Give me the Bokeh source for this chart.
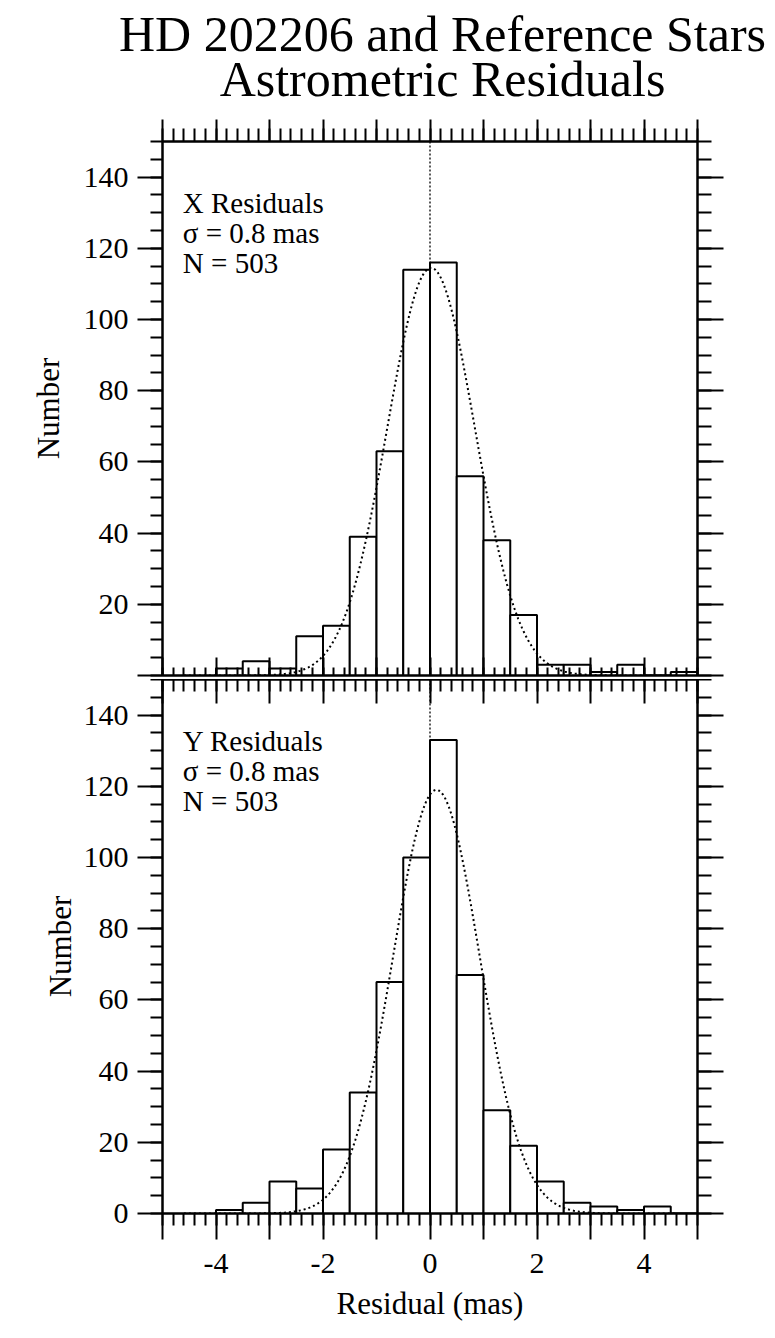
import numpy as np
from bokeh.plotting import figure
from bokeh.models import FixedTicker, LinearAxis, Label, Span, Range1d, Div
from bokeh.layouts import column
from bokeh.embed import file_html
from bokeh.resources import INLINE

# ---------------- data ----------------
bin_left = [-4.0, -3.5, -3.0, -2.5, -2.0, -1.5, -1.0, -0.5, 0.0,
            0.5, 1.0, 1.5, 2.0, 2.5, 3.0, 3.5, 4.0, 4.5]
bin_right = [-3.5, -3.0, -2.5, -2.0, -1.5, -1.0, -0.5, 0.0, 0.5,
             1.0, 1.5, 2.0, 2.5, 3.0, 3.5, 4.0, 4.5, 5.0]
x_counts = [2, 4, 2, 11, 14, 39, 63, 114, 116, 56, 38, 17, 3, 3, 1, 3, 0, 1]
y_counts = [1, 3, 9, 7, 18, 34, 65, 100, 133, 67, 29, 19, 9, 3, 2, 1, 2, 0]

# fitted gaussian parameters (peak, centre, sigma)
x_fit_peak, x_fit_center, x_fit_sigma = 114.5, 0.02, 0.82
y_fit_peak, y_fit_center, y_fit_sigma = 119.0, 0.12, 0.81
fit_span = (-4.6, 4.6)

x_text = ["X Residuals", "\u03c3 = 0.8 mas", "N = 503"]
y_text = ["Y Residuals", "\u03c3 = 0.8 mas", "N = 503"]
title_lines = ["HD 202206 and Reference Stars", "Astrometric Residuals"]

x_major_ticks = [-5, -4, -3, -2, -1, 0, 1, 2, 3, 4, 5]
x_minor_ticks = [round(-5 + 0.2 * i, 1) for i in range(51)]
x_tick_labels = {-5: "", -4: "-4", -3: "", -2: "-2", -1: "", 0: "0",
                 1: "", 2: "2", 3: "", 4: "4", 5: ""}
y_major_ticks = [0, 20, 40, 60, 80, 100, 120, 140]
y_minor_ticks = list(range(0, 151, 5))

FONT = "Liberation Serif"
FRAME_W, FRAME_H = 535, 534
LEFT, RIGHT = 162, 78
TITLE_H = 118
PAGE_W = 775


def hide_labels(ax):
    ax.major_label_text_font_size = "0px"
    ax.major_label_text_color = None
    ax.major_label_standoff = 0
    ax.axis_label = None


def style_axis(ax, tin_major, tout_major, tin_minor, tout_minor):
    ax.axis_line_width = 2
    ax.axis_line_color = "black"
    ax.major_tick_line_width = 2
    ax.minor_tick_line_width = 2
    ax.major_tick_line_color = "black"
    ax.minor_tick_line_color = "black"
    ax.major_tick_in = tin_major
    ax.major_tick_out = tout_major
    ax.minor_tick_in = tin_minor
    ax.minor_tick_out = tout_minor
    ax.major_label_text_font = FONT
    ax.major_label_text_font_size = "30px"
    ax.major_label_text_color = "black"
    ax.axis_label_text_font = FONT
    ax.axis_label_text_font_style = "normal"
    ax.axis_label_text_color = "black"
    ax.axis_label_text_font_size = "31px"


def panel(counts, peak, center, sigma, texts, top_panel, number_standoff):
    p = figure(frame_width=FRAME_W, frame_height=FRAME_H,
               x_range=Range1d(-5, 5), y_range=Range1d(0, 150),
               output_backend="svg", toolbar_location=None,
               min_border_left=LEFT, min_border_right=RIGHT,
               min_border_top=23 if top_panel else 0,
               min_border_bottom=4 if top_panel else 120,
               background_fill_color="white", border_fill_color="white")
    p.xgrid.visible = False
    p.ygrid.visible = False
    p.outline_line_color = "black"
    p.outline_line_width = 2

    xt = FixedTicker(ticks=x_major_ticks, minor_ticks=x_minor_ticks)
    yt = FixedTicker(ticks=y_major_ticks, minor_ticks=y_minor_ticks)

    # left axis
    la = p.yaxis[0]
    la.ticker = yt
    style_axis(la, 0, 25, 0, 12)
    la.major_label_standoff = 9
    la.axis_label = "Number"
    la.axis_label_standoff = number_standoff
    if top_panel:
        la.major_label_overrides = {0: ""}

    # right axis
    ra = LinearAxis(ticker=yt)
    style_axis(ra, 0, 26, 0, 14)
    hide_labels(ra)
    p.add_layout(ra, "right")

    # bottom axis
    ba = p.xaxis[0]
    ba.ticker = xt
    if top_panel:
        style_axis(ba, 18, 0, 8, 0)
        hide_labels(ba)
    else:
        style_axis(ba, 0, 26, 0, 12)
        ba.major_label_overrides = x_tick_labels
        ba.major_label_standoff = 14
        ba.axis_label = "Residual (mas)"
        ba.axis_label_standoff = 10

    # top axis
    ta = LinearAxis(ticker=xt)
    if top_panel:
        style_axis(ta, 0, 22, 0, 13)
    else:
        style_axis(ta, 24, 0, 12, 0)
    hide_labels(ta)
    p.add_layout(ta, "above")

    # histogram bars
    p.quad(left=bin_left, right=bin_right, bottom=0, top=counts,
           fill_color="white", line_color="black", line_width=2)

    # fitted gaussian (dotted)
    xs = np.linspace(fit_span[0], fit_span[1], 400)
    ys = peak * np.exp(-0.5 * ((xs - center) / sigma) ** 2)
    p.line(xs, ys, line_color="black", line_width=2, line_dash="2 3")

    # zero line
    p.add_layout(Span(location=0, dimension="height", line_color="black",
                      line_width=1.3, line_dash="2 2"))

    # annotation text
    for txt, yv in zip(texts, [132.6, 124.3, 116.0]):
        p.add_layout(Label(x=-4.62, y=yv, text=txt, text_font=FONT,
                           text_font_size="29px", text_baseline="middle",
                           text_align="left", text_color="black"))
    return p


title_html = (
    '<div style="font-family: \'%s\', serif; font-size: 50px; '
    'line-height: 45px; text-align: center; white-space: nowrap; '
    'padding-left: 119px; padding-top: 12px; color: black;">%s</div>'
    % (FONT, "<br>".join(title_lines))
)
title = Div(text=title_html, width=PAGE_W, height=TITLE_H, margin=(0, 0, 0, 0))

p1 = panel(x_counts, x_fit_peak, x_fit_center, x_fit_sigma, x_text, True, 15)
p2 = panel(y_counts, y_fit_peak, y_fit_center, y_fit_sigma, y_text, False, 3)

layout = column(title, p1, p2, spacing=0)
open("out.html", "w").write(file_html(layout, INLINE))
